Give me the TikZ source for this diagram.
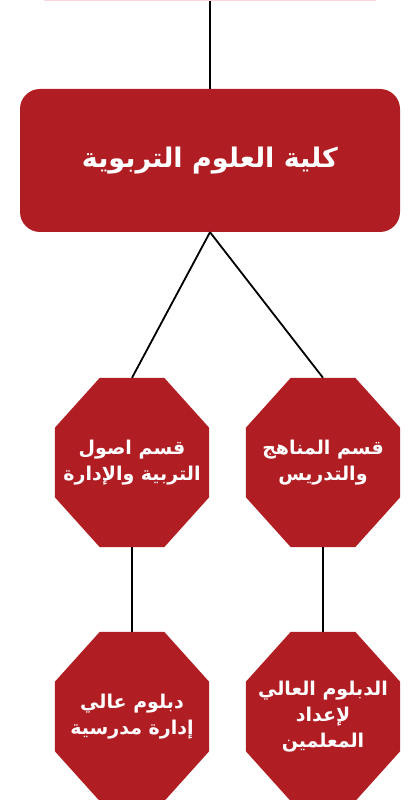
\documentclass[tikz,border=0pt]{standalone}
\usepackage{fontspec}
\newfontfamily\arabicfont[Script=Arabic]{DejaVu Sans}
\TeXXeTstate=1
\usetikzlibrary{backgrounds}

\definecolor{unired}{RGB}{176,30,36}
\definecolor{unipink}{RGB}{250,214,218}
\newcommand{\rtl}[1]{\beginR #1\endR}

\tikzset{
  uni/.style={rectangle, fill=unipink, minimum width=332pt, minimum height=62pt},
  college/.style={rectangle, rounded corners=20pt, fill=unired, text=white,
    minimum width=380pt, minimum height=143pt,
    font=\arabicfont\bfseries\fontsize{27}{32}\selectfont},
  dept/.style={rectangle, text=white, align=center, inner sep=0pt,
    minimum width=154pt, minimum height=169pt,
    font=\arabicfont\bfseries\fontsize{19}{26}\selectfont},
  link/.style={line width=1.8pt}
}

\begin{document}
\begin{tikzpicture}[x=1pt, y=1pt]
\useasboundingbox (0,0) rectangle (418,800);
\clip (0,0) rectangle (418,800);

% Nodes
\node[uni] (uni) at (210,830) {};
\node[college] (college) at (210,639.5) {\rtl{كلية العلوم التربوية}};

\node[dept] (asul) at (132,337.5) {\rtl{قسم اصول}\\\rtl{التربية والإدارة}};
\node[dept] (manahij) at (323,337.5) {\rtl{قسم المناهج}\\\rtl{والتدريس}};

\node[dept] (dipadmin) at (132,83.5) {\rtl{دبلوم عالي}\\\rtl{إدارة مدرسية}};
\node[dept] (dipteach) at (323,83.5) {\rtl{الدبلوم العالي}\\\rtl{لإعداد}\\\rtl{المعلمين}};

% Octagons behind the texts
\begin{scope}[on background layer]
\foreach \n in {asul,manahij,dipadmin,dipteach}
  \fill[unired] ([xshift=45pt]\n.north west) -- ([xshift=-45pt]\n.north east)
    -- ([yshift=-50pt]\n.north east) -- ([yshift=50pt]\n.south east)
    -- ([xshift=-45pt]\n.south east) -- ([xshift=45pt]\n.south west)
    -- ([yshift=50pt]\n.south west) -- ([yshift=-50pt]\n.north west) -- cycle;
\end{scope}

% Links
\draw[link] (uni.south) -- (college.north);
\draw[link] (college.south) -- (asul.north);
\draw[link] (college.south) -- (manahij.north);
\draw[link] (asul.south) -- (dipadmin.north);
\draw[link] (manahij.south) -- (dipteach.north);

\end{tikzpicture}
\end{document}
